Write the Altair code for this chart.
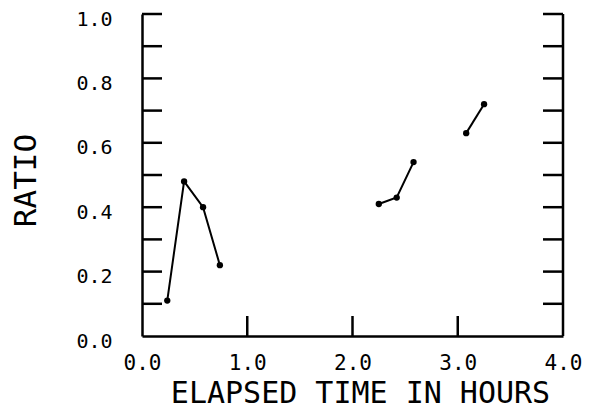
import altair as alt
import pandas as pd

# data
series = ["a", "a", "a", "a", "b", "b", "b", "c", "c"]
hours = [0.24, 0.40, 0.58, 0.74, 2.25, 2.42, 2.58, 3.08, 3.25]
ratio = [0.11, 0.48, 0.40, 0.22, 0.41, 0.43, 0.54, 0.63, 0.72]

y_tick_values = [0.1, 0.2, 0.3, 0.4, 0.5, 0.6, 0.7, 0.8, 0.9, 1.0]
y_label_values = [0.0, 0.2, 0.4, 0.6, 0.8, 1.0]
x_tick_values = [1.0, 2.0, 3.0]
x_label_values = [0.0, 1.0, 2.0, 3.0, 4.0]

W, H = 421, 322
FONT = "DejaVu Sans Mono"

df = pd.DataFrame({"series": series, "hours": hours, "ratio": ratio})
yt = pd.DataFrame({"v": y_tick_values})
xt = pd.DataFrame({"v": x_tick_values})

xscale = alt.Scale(domain=[0, 4], nice=False, zero=False)
yscale = alt.Scale(domain=[0, 1], nice=False, zero=False)

xaxis = alt.Axis(
    values=x_label_values, format=".1f", ticks=False, grid=False,
    domain=True, domainColor="black", domainWidth=2.5, labelFlush=False,
    labelFont=FONT, labelFontSize=21, labelColor="black", labelPadding=16,
    title="ELAPSED TIME IN HOURS", titleFont=FONT, titleFontSize=30,
    titleFontWeight="normal", titleColor="black",
    titleX=218, titleY=57, titleAlign="center", titleBaseline="middle",
)
yaxis = alt.Axis(
    values=y_label_values, format=".1f", ticks=False, grid=False,
    domain=True, domainColor="black", domainWidth=2.5, labelFlush=False,
    labelFont=FONT, labelFontSize=20, labelColor="black", labelPadding=30,
    labelOffset=5,
    title="RATIO", titleFont=FONT, titleFontSize=31, titleFontWeight="normal",
    titleColor="black", titleAngle=270, titleX=-116, titleY=166,
    titleAlign="center", titleBaseline="middle",
)

lines = alt.Chart(df).mark_line(color="black", strokeWidth=2).encode(
    x=alt.X("hours:Q", scale=xscale, axis=xaxis),
    y=alt.Y("ratio:Q", scale=yscale, axis=yaxis),
    detail="series:N",
)
points = alt.Chart(df).mark_point(filled=True, color="black", size=40, opacity=1).encode(
    x=alt.X("hours:Q", scale=xscale),
    y=alt.Y("ratio:Q", scale=yscale),
)

left_ticks = alt.Chart(yt).mark_rule(color="black", strokeWidth=2.5).encode(
    y=alt.Y("v:Q", scale=yscale), x=alt.value(0), x2=alt.value(20)
)
right_ticks = alt.Chart(yt).mark_rule(color="black", strokeWidth=2.5).encode(
    y=alt.Y("v:Q", scale=yscale), x=alt.value(W - 20), x2=alt.value(W)
)
bottom_ticks = alt.Chart(xt).mark_rule(color="black", strokeWidth=2.5).encode(
    x=alt.X("v:Q", scale=xscale), y=alt.value(H - 20), y2=alt.value(H)
)
right_line = alt.Chart(pd.DataFrame({"x": [4.0], "y0": [0.0], "y1": [1.0]})).mark_rule(
    color="black", strokeWidth=2.5
).encode(
    x=alt.X("x:Q", scale=xscale), y=alt.Y("y0:Q", scale=yscale), y2="y1:Q"
)

chart = alt.layer(
    left_ticks, right_ticks, bottom_ticks, right_line, lines, points
).properties(
    width=W, height=H,
    background="white",
    autosize=alt.AutoSizeParams(type="none"),
    padding={"left": 134, "top": 6, "right": 30, "bottom": 75},
).configure_view(strokeWidth=0, stroke="transparent").configure_axis(grid=False)

chart.save("out.html", embed_options={"renderer": "svg", "actions": False})
